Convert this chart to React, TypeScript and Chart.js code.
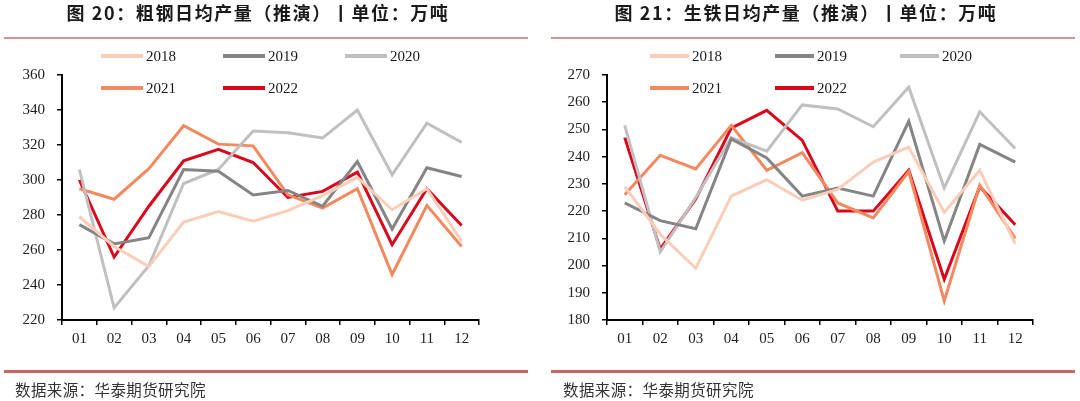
import React, { useEffect, useRef } from "react";
import { Chart, registerables } from "chart.js";

Chart.register(...registerables);

// ---------- data ----------
const months = ["01", "02", "03", "04", "05", "06", "07", "08", "09", "10", "11", "12"];
const years = ["2018", "2019", "2020", "2021", "2022"];
const yearColors = ["#F9CDB8", "#858585", "#C0C0C0", "#F4895F", "#D9061C"];

// 粗钢日均产量 (万吨)
const steel2018 = [279, 262, 250.5, 276, 282, 276.5, 282.5, 291, 301.5, 283, 295, 265];
const steel2019 = [274.5, 263.5, 267, 306, 305, 291.5, 294, 285, 310.5, 272, 307, 302];
const steel2020 = [306, 227, 251, 298, 306, 328, 327, 324, 340, 303, 332.5, 321.5];
const steel2021 = [295, 289, 306.5, 331, 320.5, 319.5, 291.5, 284, 295, 246, 285.5, 262];
const steel2022 = [300, 256, 285, 311, 317.5, 310, 290, 293.5, 304.5, 263, 295, 274];

// 生铁日均产量 (万吨)
const iron2018 = [229, 211.5, 199, 225.5, 231.5, 224, 228, 238, 243.5, 219.5, 235, 208];
const iron2019 = [223, 216.5, 213.5, 246.5, 239.5, 225.5, 228.5, 225.5, 253, 209, 244.5, 238];
const iron2020 = [251.5, 205, 225, 247, 242, 259, 257.5, 251, 265.5, 228.5, 256.5, 243];
const iron2021 = [226, 240.5, 235.5, 251.5, 235, 241.5, 223, 217.5, 234.5, 187, 229.5, 210];
const iron2022 = [247, 206, 224.5, 250.5, 257, 246, 220, 220, 235, 195, 229, 215];

const steelAxis = { min: 220, max: 360, step: 20 };
const ironAxis = { min: 180, max: 270, step: 10 };

const steelTitle = "图 20：粗钢日均产量（推演）丨单位：万吨";
const ironTitle = "图 21：生铁日均产量（推演）丨单位：万吨";
const sourceText = "数据来源：华泰期货研究院";

// ---------- chart ----------
const legendPlugin = {
  id: "manualLegend",
  afterDraw(chart: any, _args: any, opts: any) {
    const ctx = chart.ctx;
    const pos = opts.positions as { x: number; y: number }[];
    ctx.save();
    chart.data.datasets.forEach((ds: any, i: number) => {
      const p = pos[i];
      if (!p) return;
      ctx.strokeStyle = ds.borderColor;
      ctx.lineWidth = 4;
      ctx.lineCap = "butt";
      ctx.beginPath();
      ctx.moveTo(p.x, p.y);
      ctx.lineTo(p.x + opts.sample, p.y);
      ctx.stroke();
      ctx.fillStyle = "#1a1a1a";
      ctx.font = "15px 'Liberation Serif', 'Times New Roman', serif";
      ctx.textBaseline = "middle";
      ctx.textAlign = "left";
      ctx.fillText(ds.label, p.x + opts.sample + 3, p.y + 1);
    });
    ctx.restore();
  },
};

type PanelProps = {
  series: number[][];
  axis: { min: number; max: number; step: number };
  axisLeft: number;
  axisRight: number;
  legend: { x: number; y: number }[];
  sample: number;
};

function Panel({ series, axis, axisLeft, axisRight, legend, sample }: PanelProps) {
  const ref = useRef<HTMLCanvasElement>(null);
  useEffect(() => {
    if (!ref.current) return;
    const tickFont = { family: "'Liberation Serif', 'Times New Roman', serif", size: 15 };
    const chart = new Chart(ref.current, {
      type: "line",
      data: {
        labels: months,
        datasets: series.map((d, i) => ({
          label: years[i],
          data: d,
          borderColor: yearColors[i],
          backgroundColor: yearColors[i],
          borderWidth: 3,
          pointRadius: 0,
          pointHoverRadius: 0,
          tension: 0,
          fill: false,
        })),
      },
      options: {
        animation: false,
        responsive: false,
        maintainAspectRatio: false,
        events: [],
        layout: { padding: { top: 75, left: 0, right: 540 - axisRight, bottom: 0 } },
        plugins: {
          legend: { display: false },
          tooltip: { enabled: false },
          title: { display: false },
          manualLegend: { positions: legend, sample },
        } as any,
        scales: {
          x: {
            type: "category",
            offset: true,
            grid: {
              offset: true,
              drawOnChartArea: false,
              drawTicks: true,
              tickLength: 5,
              color: "#000",
              lineWidth: 1.5,
            },
            border: { display: true, color: "#000", width: 2 },
            ticks: { color: "#222", font: tickFont, padding: 5, maxRotation: 0, autoSkip: false },
            afterFit: (s: any) => {
              s.height = 81;
            },
          },
          y: {
            min: axis.min,
            max: axis.max,
            grid: {
              drawOnChartArea: false,
              drawTicks: true,
              tickLength: 5,
              color: "#000",
              lineWidth: 1.5,
            },
            border: { display: true, color: "#000", width: 2 },
            ticks: { stepSize: axis.step, color: "#222", font: tickFont, padding: 12 },
            afterFit: (s: any) => {
              s.width = axisLeft;
            },
          },
        },
      },
      plugins: [legendPlugin],
    });
    return () => chart.destroy();
  }, []);
  return <canvas ref={ref} width={540} height={401} style={{ width: 540, height: 401, display: "block" }} />;
}

const titleStyle: React.CSSProperties = {
  position: "absolute",
  top: -1,
  width: 540,
  textAlign: "center",
  fontFamily: "'Noto Sans CJK SC', sans-serif",
  fontWeight: 700,
  fontSize: 18,
  letterSpacing: 1.6,
  lineHeight: "26px",
  color: "#1a1a1a",
  whiteSpace: "nowrap",
};

const sourceStyle: React.CSSProperties = {
  position: "absolute",
  top: 378,
  fontFamily: "'Noto Sans CJK SC', sans-serif",
  fontSize: 15.5,
  letterSpacing: 0.4,
  lineHeight: "22px",
  color: "#333",
  whiteSpace: "nowrap",
};

export default function App() {
  const legendL = [
    { x: 101, y: 56 },
    { x: 223, y: 56 },
    { x: 345, y: 56 },
    { x: 101, y: 88 },
    { x: 223, y: 88 },
  ];
  const legendR = [
    { x: 110, y: 56 },
    { x: 235, y: 56 },
    { x: 360, y: 56 },
    { x: 110, y: 88 },
    { x: 235, y: 88 },
  ];
  return (
    <div style={{ position: "absolute", left: 0, top: 0, width: 1080, height: 401, background: "#fff", overflow: "hidden" }}>
      <div style={{ position: "absolute", left: 0, top: 0 }}>
        <Panel
          series={[steel2018, steel2019, steel2020, steel2021, steel2022]}
          axis={steelAxis}
          axisLeft={62}
          axisRight={479}
          legend={legendL}
          sample={42}
        />
      </div>
      <div style={{ position: "absolute", left: 540, top: 0 }}>
        <Panel
          series={[iron2018, iron2019, iron2020, iron2021, iron2022]}
          axis={ironAxis}
          axisLeft={67}
          axisRight={493}
          legend={legendR}
          sample={39}
        />
      </div>
      <div style={{ ...titleStyle, left: 258 - 270 }}>{steelTitle}</div>
      <div style={{ ...titleStyle, left: 806 - 270 }}>{ironTitle}</div>
      <div style={{ position: "absolute", left: 4, top: 37, width: 524, height: 2, background: "#D89090" }} />
      <div style={{ position: "absolute", left: 551, top: 37, width: 524, height: 2, background: "#D89090" }} />
      <div style={{ position: "absolute", left: 4, top: 370, width: 524, height: 2.5, background: "#C86666" }} />
      <div style={{ position: "absolute", left: 551, top: 370, width: 524, height: 2.5, background: "#C86666" }} />
      <div style={{ ...sourceStyle, left: 15 }}>{sourceText}</div>
      <div style={{ ...sourceStyle, left: 563 }}>{sourceText}</div>
    </div>
  );
}
